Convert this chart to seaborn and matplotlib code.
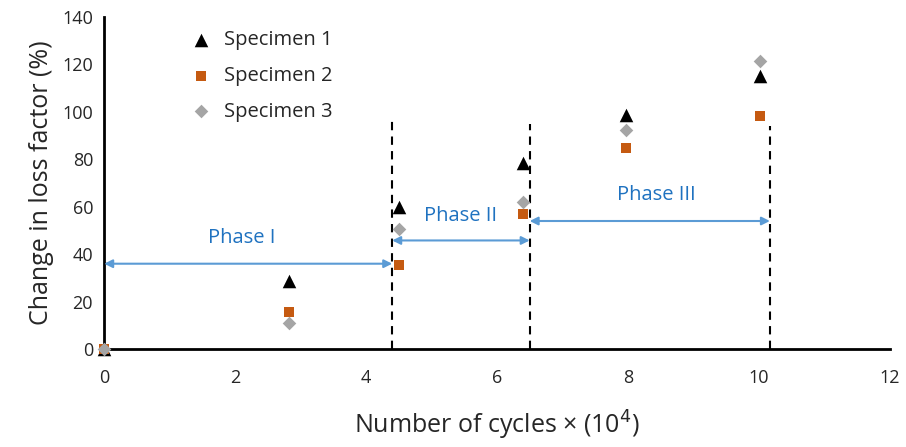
import numpy as np
import pandas as pd
import seaborn as sns
import matplotlib.pyplot as plt

# values
cycles = [0, 2.83, 4.5, 6.4, 7.97, 10.02]
specimen_1 = [0, 28.8, 60, 78.3, 98.6, 115]
specimen_2 = [0, 15.8, 35.6, 57, 84.8, 98.2]
specimen_3 = [0, 11, 50.8, 62, 92.4, 121.5]
series_names = ["Specimen 1", "Specimen 2", "Specimen 3"]

phase_bounds = [0, 4.4, 6.5, 10.17]
phase_tops = [98, 95, 94]          # top of the dashed lines
phase_arrow_y = [36, 45.8, 54]
phase_labels = ["Phase I", "Phase II", "Phase III"]
phase_label_pos = [(2.1, 47), (5.45, 56), (8.43, 65)]

df = pd.DataFrame({
    "cycles": cycles * 3,
    "change": specimen_1 + specimen_2 + specimen_3,
    "specimen": np.repeat(series_names, len(cycles)),
})

sns.set_style("white")
plt.rcParams['font.family'] = ['Open Sans', 'DejaVu Sans']

fig = plt.figure(figsize=(9.06, 4.47), dpi=100)
ax = fig.add_axes([0.115, 0.219, 0.867, 0.743])

palette = {"Specimen 1": "black", "Specimen 2": "#C55A11", "Specimen 3": "#A5A5A5"}
markers = {"Specimen 1": "^", "Specimen 2": "s", "Specimen 3": "D"}
sizes = {"Specimen 1": 95, "Specimen 2": 60, "Specimen 3": 48}
for name in series_names:
    sub = df[df["specimen"] == name]
    sns.scatterplot(data=sub, x="cycles", y="change", ax=ax, color=palette[name],
                    marker=markers[name], s=sizes[name], linewidth=0, label=name,
                    zorder=3, clip_on=False)

# phase boundaries (dashed lines)
for xb, top in zip(phase_bounds[1:], phase_tops):
    ax.plot([xb, xb], [0, top], color="black", linestyle=(0, (4, 3)), linewidth=1.5, zorder=2)

# phase arrows
for i in range(3):
    ax.annotate("", xy=(phase_bounds[i + 1], phase_arrow_y[i]),
                xytext=(phase_bounds[i], phase_arrow_y[i]),
                arrowprops=dict(arrowstyle="<|-|>", color="#5B9BD5", lw=1.5,
                                mutation_scale=12, shrinkA=0, shrinkB=0))
    ax.text(phase_label_pos[i][0], phase_label_pos[i][1], phase_labels[i],
            color="#1F72C0", fontsize=14.5, ha="center", va="center")

ax.set_xlim(0, 12)
ax.set_ylim(0, 140)
ax.set_xticks(range(0, 13, 2))
ax.set_yticks(range(0, 141, 20))
ax.tick_params(axis="both", direction="in", length=6, width=1.2, labelsize=13, pad=8)
ax.tick_params(axis="x", pad=14)
for side in ["top", "right"]:
    ax.spines[side].set_visible(False)
for side in ["left", "bottom"]:
    ax.spines[side].set_linewidth(2)
    ax.spines[side].set_color("black")

ax.set_xlabel("Number of cycles × (10$^4$)", fontsize=18, labelpad=16)
ax.set_ylabel("Change in loss factor (%)", fontsize=18, labelpad=6)

ax.legend(loc="upper left", bbox_to_anchor=(0.075, 1.015), frameon=False, fontsize=14.5,
          handletextpad=0.1, labelspacing=0.78)

fig.savefig("out.png", dpi=100)
